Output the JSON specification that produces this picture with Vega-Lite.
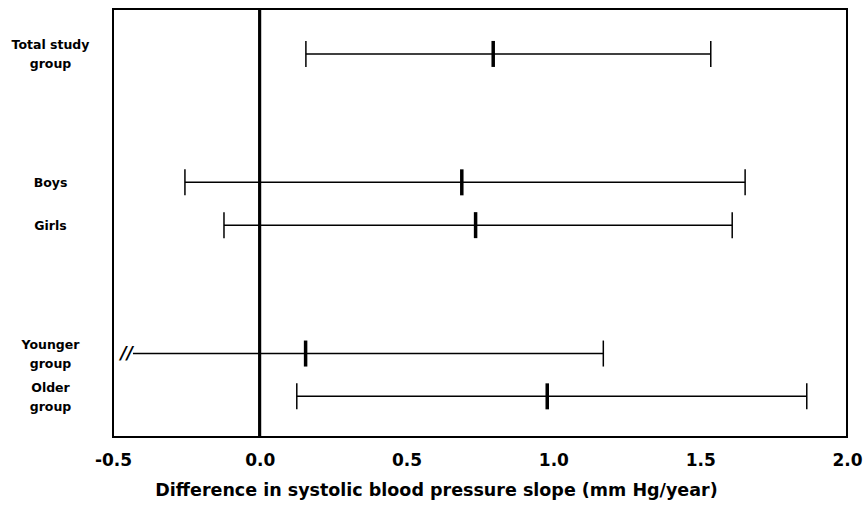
{
  "$schema": "https://vega.github.io/schema/vega-lite/v6.json",
  "width": 734,
  "height": 428,
  "autosize": {"type": "none"},
  "padding": {"left": 113, "top": 9, "right": 19, "bottom": 73},
  "background": "white",
  "config": {
    "view": {"stroke": "black", "strokeWidth": 2},
    "font": "DejaVu Sans"
  },
  "data": {
    "values": [
      {"group": "Total study group", "row": 1, "low": 0.157, "est": 0.795, "high": 1.536, "broken": false},
      {"group": "Boys", "row": 4, "low": -0.255, "est": 0.688, "high": 1.653, "broken": false},
      {"group": "Girls", "row": 5, "low": -0.122, "est": 0.735, "high": 1.609, "broken": false},
      {"group": "Younger group", "row": 8, "low": -0.432, "est": 0.156, "high": 1.17, "broken": true},
      {"group": "Older group", "row": 9, "low": 0.126, "est": 0.979, "high": 1.863, "broken": false}
    ]
  },
  "encoding": {
    "y": {
      "field": "row",
      "type": "quantitative",
      "scale": {"domain": [-0.05, 9.95], "reverse": true, "nice": false, "zero": false},
      "axis": {
        "title": null,
        "values": [1, 4, 5, 8, 9],
        "labelExpr": "datum.value == 1 ? ['Total study', 'group'] : datum.value == 4 ? 'Boys' : datum.value == 5 ? 'Girls' : datum.value == 8 ? ['Younger', 'group'] : ['Older', 'group']",
        "domain": false,
        "ticks": false,
        "grid": false,
        "labelPadding": 63,
        "labelAlign": "center",
        "labelBaseline": "middle",
        "labelOffset": {"condition": {"test": "datum.value == 1 || datum.value >= 8", "value": -9}, "value": 0},
        "labelFont": "DejaVu Sans",
        "labelFontWeight": "bold",
        "labelFontSize": 12.5,
        "labelLineHeight": 19,
        "labelColor": "black"
      }
    }
  },
  "layer": [
    {
      "mark": {"type": "rule", "color": "black", "strokeWidth": 2.5},
      "encoding": {"x": {"datum": 0, "type": "quantitative"}, "y": null}
    },
    {
      "mark": {"type": "rule", "color": "black", "strokeWidth": 1.5},
      "encoding": {
        "x": {
          "field": "low",
          "type": "quantitative",
          "scale": {"domain": [-0.5, 2.0], "nice": false, "zero": false},
          "axis": {
            "values": [-0.5, 0, 0.5, 1, 1.5, 2],
            "labelExpr": "replace(format(datum.value, '.1f'), '\u2212', '-')",
            "domain": false,
            "ticks": false,
            "grid": false,
            "labelFont": "DejaVu Sans",
            "labelFontWeight": "bold",
            "labelFontSize": 17,
            "labelColor": "black",
            "labelPadding": 15,
            "labelFlush": false,
            "labelOverlap": false,
            "title": "Difference in systolic blood pressure slope (mm Hg/year)",
            "titleFont": "DejaVu Sans",
            "titleFontWeight": "bold",
            "titleFontSize": 17.5,
            "titleColor": "black",
            "titlePadding": 13,
            "titleX": 323
          }
        },
        "x2": {"field": "high"}
      }
    },
    {
      "transform": [{"filter": "!datum.broken"}],
      "mark": {"type": "tick", "orient": "vertical", "color": "black", "thickness": 1.5, "size": 26, "opacity": 1},
      "encoding": {"x": {"field": "low", "type": "quantitative"}}
    },
    {
      "mark": {"type": "tick", "orient": "vertical", "color": "black", "thickness": 1.5, "size": 26, "opacity": 1},
      "encoding": {"x": {"field": "high", "type": "quantitative"}}
    },
    {
      "mark": {"type": "tick", "orient": "vertical", "color": "black", "thickness": 3.5, "size": 26, "opacity": 1},
      "encoding": {"x": {"field": "est", "type": "quantitative"}}
    },
    {
      "transform": [{"filter": "datum.broken"}],
      "mark": {"type": "text", "text": "//", "font": "DejaVu Sans", "fontWeight": "bold", "fontStyle": "italic", "fontSize": 17, "align": "right", "baseline": "middle", "color": "black"},
      "encoding": {"x": {"field": "low", "type": "quantitative"}}
    }
  ]
}
